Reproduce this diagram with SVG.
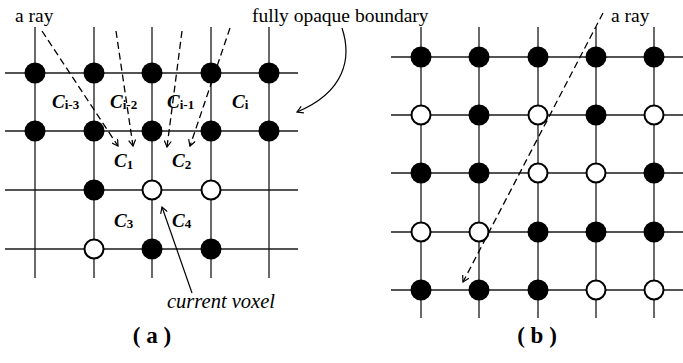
<svg xmlns="http://www.w3.org/2000/svg" width="683" height="363" viewBox="0 0 683 363">
<defs>
<style>
.grid line{stroke:#1a1a1a;stroke-width:1.3}
.b{fill:#000}
.w{fill:#fff;stroke:#000;stroke-width:2}
.t{font-family:"Liberation Serif","Times New Roman",serif;font-size:19.5px;fill:#000}
.it{font-style:italic;font-size:20.5px}
.cap{font-family:"Liberation Serif","Times New Roman",serif;font-size:23px;font-weight:bold;fill:#000}
.c{font-family:"Liberation Serif","Times New Roman",serif;font-size:19px;font-weight:bold;font-style:italic;fill:#000}
.sub{font-size:13px;font-style:normal}
.ray{stroke:#000;stroke-width:1.3;fill:none;stroke-dasharray:7 4}
.arr{stroke:#000;stroke-width:1.2;fill:none}
</style>
<marker id="ah" markerWidth="8" markerHeight="8" refX="7" refY="4" orient="auto" markerUnits="userSpaceOnUse">
<path d="M1,0.5 L7,4 L1,7.5" fill="none" stroke="#000" stroke-width="1.2"/>
</marker>
</defs>
<rect width="683" height="363" fill="#fff"/>

<!-- panel a grid -->
<g class="grid" id="grid-a">
<line x1="5" y1="73" x2="298" y2="73"/>
<line x1="5" y1="131" x2="298" y2="131"/>
<line x1="5" y1="190" x2="298" y2="190"/>
<line x1="5" y1="249" x2="298" y2="249"/>
<line x1="35" y1="27" x2="35" y2="278"/>
<line x1="94" y1="27" x2="94" y2="278"/>
<line x1="152" y1="27" x2="152" y2="278"/>
<line x1="211" y1="27" x2="211" y2="278"/>
<line x1="269" y1="27" x2="269" y2="278"/>
</g>

<!-- panel b grid -->
<g class="grid" id="grid-b">
<line x1="391" y1="57" x2="683" y2="57"/>
<line x1="391" y1="115" x2="683" y2="115"/>
<line x1="391" y1="173" x2="683" y2="173"/>
<line x1="391" y1="232" x2="683" y2="232"/>
<line x1="391" y1="290" x2="683" y2="290"/>
<line x1="421" y1="27" x2="421" y2="318"/>
<line x1="479" y1="27" x2="479" y2="318"/>
<line x1="538" y1="27" x2="538" y2="318"/>
<line x1="596" y1="27" x2="596" y2="318"/>
<line x1="654" y1="27" x2="654" y2="318"/>
</g>

<!-- panel a voxels -->
<g id="voxels-a">
<circle id="a-r0c0" class="b" cx="35" cy="73" r="10.5"/>
<circle id="a-r0c1" class="b" cx="94" cy="73" r="10.5"/>
<circle id="a-r0c2" class="b" cx="152" cy="73" r="10.5"/>
<circle id="a-r0c3" class="b" cx="211" cy="73" r="10.5"/>
<circle id="a-r0c4" class="b" cx="269" cy="73" r="10.5"/>
<circle id="a-r1c0" class="b" cx="35" cy="131" r="10.5"/>
<circle id="a-r1c1" class="b" cx="94" cy="131" r="10.5"/>
<circle id="a-r1c2" class="b" cx="152" cy="131" r="10.5"/>
<circle id="a-r1c3" class="b" cx="211" cy="131" r="10.5"/>
<circle id="a-r1c4" class="b" cx="269" cy="131" r="10.5"/>
<circle id="a-r2c1" class="b" cx="94" cy="190" r="10.5"/>
<circle id="a-r2c2" class="w" cx="152" cy="190" r="9.5"/>
<circle id="a-r2c3" class="w" cx="211" cy="190" r="9.5"/>
<circle id="a-r3c1" class="w" cx="94" cy="249" r="9.5"/>
<circle id="a-r3c2" class="b" cx="152" cy="249" r="10.5"/>
<circle id="a-r3c3" class="b" cx="211" cy="249" r="10.5"/>
</g>

<!-- panel b voxels -->
<g id="voxels-b">
<circle class="b" cx="421" cy="57" r="10.5"/>
<circle class="b" cx="479" cy="57" r="10.5"/>
<circle class="b" cx="538" cy="57" r="10.5"/>
<circle class="b" cx="596" cy="57" r="10.5"/>
<circle class="b" cx="654" cy="57" r="10.5"/>
<circle class="w" cx="421" cy="115" r="9.5"/>
<circle class="b" cx="479" cy="115" r="10.5"/>
<circle class="w" cx="538" cy="115" r="9.5"/>
<circle class="b" cx="596" cy="115" r="10.5"/>
<circle class="w" cx="654" cy="115" r="9.5"/>
<circle class="b" cx="421" cy="173" r="10.5"/>
<circle class="b" cx="479" cy="173" r="10.5"/>
<circle class="w" cx="538" cy="173" r="9.5"/>
<circle class="w" cx="596" cy="173" r="9.5"/>
<circle class="b" cx="654" cy="173" r="10.5"/>
<circle class="w" cx="421" cy="232" r="9.5"/>
<circle class="w" cx="479" cy="232" r="9.5"/>
<circle class="b" cx="538" cy="232" r="10.5"/>
<circle class="b" cx="596" cy="232" r="10.5"/>
<circle class="b" cx="654" cy="232" r="10.5"/>
<circle class="b" cx="421" cy="290" r="10.5"/>
<circle class="b" cx="479" cy="290" r="10.5"/>
<circle class="b" cx="538" cy="290" r="10.5"/>
<circle class="w" cx="596" cy="290" r="9.5"/>
<circle class="w" cx="654" cy="290" r="9.5"/>
</g>

<!-- cell labels -->
<g id="cells">
<text class="c" x="52" y="108">C<tspan class="sub" dy="1">i-3</tspan></text>
<text class="c" x="110" y="108">C<tspan class="sub" dy="1">i-2</tspan></text>
<text class="c" x="167" y="108">C<tspan class="sub" dy="1">i-1</tspan></text>
<text class="c" x="232" y="108">C<tspan class="sub" dy="1">i</tspan></text>
<text class="c" x="114" y="167">C<tspan class="sub" dy="2">1</tspan></text>
<text class="c" x="172" y="167">C<tspan class="sub" dy="2">2</tspan></text>
<text class="c" x="114" y="227">C<tspan class="sub" dy="1">3</tspan></text>
<text class="c" x="172" y="227">C<tspan class="sub" dy="1">4</tspan></text>
</g>

<!-- connectors -->
<g id="connectors">
<line class="ray" x1="42" y1="31" x2="118" y2="146" marker-end="url(#ah)"/>
<line class="ray" x1="116" y1="31" x2="133" y2="146" marker-end="url(#ah)"/>
<line class="ray" x1="182" y1="31" x2="167" y2="147" marker-end="url(#ah)"/>
<line class="ray" x1="230" y1="28" x2="190" y2="146" marker-end="url(#ah)"/>
<path class="arr" d="M342,28 C352,58 345,92 297,112" marker-end="url(#ah)"/>
<line class="arr" x1="192" y1="293" x2="162" y2="207" marker-end="url(#ah)"/>
<line class="ray" x1="603" y1="13" x2="463" y2="282" marker-end="url(#ah)"/>
</g>

<!-- texts -->
<g id="labels">
<text class="t" x="15" y="22">a ray</text>
<text class="t" x="252" y="22">fully opaque boundary</text>
<text class="t it" x="167" y="308">current voxel</text>
<text class="t" x="611" y="22">a ray</text>
<text class="cap" x="152" y="343" text-anchor="middle">( a )</text>
<text class="cap" x="537" y="343" text-anchor="middle">( b )</text>
</g>
</svg>
